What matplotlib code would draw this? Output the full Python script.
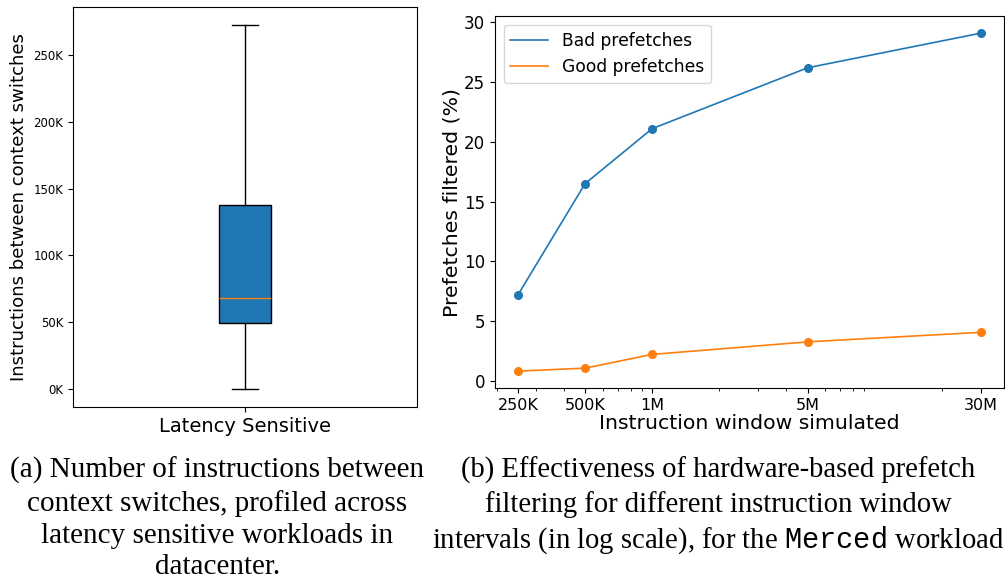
import matplotlib
matplotlib.use("Agg")
import matplotlib.pyplot as plt
from matplotlib.ticker import FuncFormatter

# (a) box stats: instructions between context switches
box_label = "Latency Sensitive"
box_whislo = 0
box_q1 = 49000
box_med = 68000
box_q3 = 138000
box_whishi = 272500

# (b) prefetch filtering vs instruction window
windows = [250e3, 500e3, 1e6, 5e6, 30e6]
window_labels = ["250K", "500K", "1M", "5M", "30M"]
bad_prefetches = [7.2, 16.5, 21.1, 26.2, 29.1]
good_prefetches = [0.8, 1.05, 2.2, 3.25, 4.05]

caption_a = ("(a) Number of instructions between\n"
             "context switches, profiled across\n"
             "latency sensitive workloads in\n"
             "datacenter.")
caption_b = ("(b) Effectiveness of hardware-based prefetch\n"
             "filtering for different instruction window\n"
             "intervals (in log scale), for the $\\mathtt{Merced}$ workload")

plt.rcParams["mathtext.fontset"] = "custom"
plt.rcParams["mathtext.tt"] = "Liberation Mono"
plt.rcParams["mathtext.rm"] = "Liberation Serif"

fig = plt.figure(figsize=(10.05, 5.8), dpi=100)

# ---- left: box plot
ax1 = fig.add_axes([0.0726, 0.2983, 0.3424, 0.6897])
stats = [dict(label=box_label, whislo=box_whislo, q1=box_q1, med=box_med,
              q3=box_q3, whishi=box_whishi, fliers=[])]
ax1.bxp(stats, widths=0.15, patch_artist=True, showfliers=False,
        boxprops=dict(facecolor="C0", edgecolor="black", linewidth=1),
        medianprops=dict(color="C1", linewidth=1),
        whiskerprops=dict(linewidth=1), capprops=dict(linewidth=1))
ax1.yaxis.set_major_formatter(FuncFormatter(lambda v, p: f"{int(v / 1000)}K"))
ax1.tick_params(axis="y", labelsize=8.5)
ax1.tick_params(axis="x", labelsize=14)
ax1.set_ylabel("Instructions between context switches", fontsize=13.1)

# ---- right: line plot on log x (legend shows plain lines)
ax2 = fig.add_axes([0.4925, 0.331, 0.5065, 0.641])
for vals, name, col in [(bad_prefetches, "Bad prefetches", "C0"),
                        (good_prefetches, "Good prefetches", "C1")]:
    ax2.plot(windows, vals, lw=1.2, color=col, label=name)
    ax2.plot(windows, vals, "o", ms=5.5, color=col)
ax2.set_xscale("log")
ax2.set_xticks(windows, window_labels)
ax2.tick_params(axis="x", labelsize=11.5)
ax2.tick_params(axis="y", labelsize=12)
ax2.set_xlabel("Instruction window simulated", fontsize=14.7, labelpad=1)
ax2.set_ylabel("Prefetches filtered (%)", fontsize=14.7, labelpad=2)
ax2.legend(loc="upper left", fontsize=12.3, handlelength=2.2)

# captions
fig.text(0.216, 0.212, caption_a, ha="center", va="top", ma="center",
         family="Liberation Serif", fontsize=21, linespacing=1.28)
fig.text(0.7148, 0.212, caption_b, ha="center", va="top", ma="center",
         family="Liberation Serif", fontsize=20.6, linespacing=1.3)

fig.savefig("out.png", dpi=100)
